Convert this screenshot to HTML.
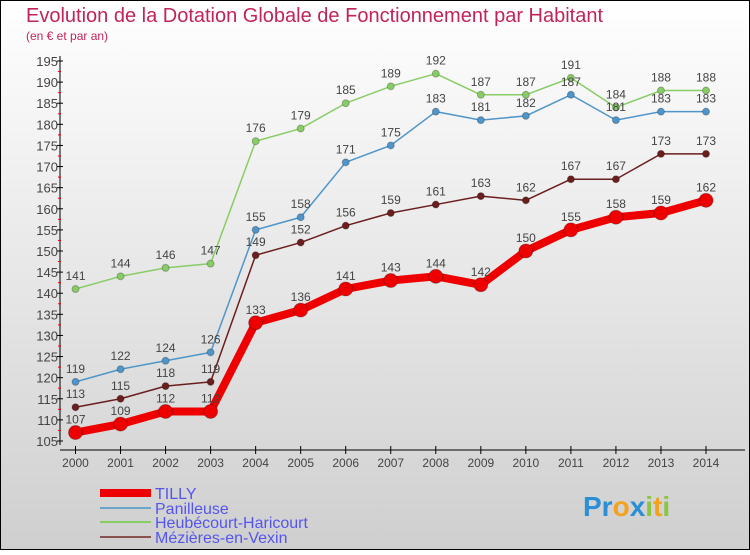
<!DOCTYPE html>
<html><head><meta charset="utf-8"><style>
html,body{margin:0;padding:0}
body{width:750px;height:550px;overflow:hidden;font-family:"Liberation Sans",sans-serif}
</style></head><body>
<svg width="750" height="550" xmlns="http://www.w3.org/2000/svg" id="svg">
<defs><linearGradient id="bg" x1="0" y1="0" x2="0" y2="1"><stop offset="0" stop-color="#ffffff"/><stop offset="1" stop-color="#cfcfcf"/></linearGradient></defs>
<rect x="0.5" y="0.5" width="749" height="549" fill="url(#bg)" stroke="#000"/>
<text x="26" y="22" font-size="20" fill="#c0245a">Evolution de la Dotation Globale de Fonctionnement par Habitant</text>
<text x="26" y="40" font-size="12" fill="#c0245a">(en € et par an)</text>
<g id="axes"></g><g id="series"></g>
<g font-size="16" fill="#5555ee">
<line x1="100" y1="493" x2="151" y2="493" stroke="#ee0000" stroke-width="8"/><text x="155" y="499">TILLY</text>
<line x1="100" y1="508" x2="151" y2="508" stroke="#6aa6cc" stroke-width="2"/><text x="155" y="514">Panilleuse</text>
<line x1="100" y1="522" x2="151" y2="522" stroke="#88cc66" stroke-width="2"/><text x="155" y="528">Heubécourt-Haricourt</text>
<line x1="100" y1="537" x2="151" y2="537" stroke="#8a5050" stroke-width="2"/><text x="155" y="543">Mézières-en-Vexin</text>
</g>
<g font-size="28" font-weight="bold">
<text x="583" y="516"><tspan fill="#2a8fd6">Pr</tspan><tspan fill="#f2a21c">o</tspan><tspan fill="#2a8fd6">x</tspan><tspan fill="#8cc63f">i</tspan><tspan fill="#f2a21c">t</tspan><tspan fill="#8cc63f">i</tspan></text>
</g>
</svg>
<script>
const years=[2000,2001,2002,2003,2004,2005,2006,2007,2008,2009,2010,2011,2012,2013,2014];
const tilly=[107,109,112,112,133,136,141,143,144,142,150,155,158,159,162];
const panilleuse=[119,122,124,126,155,158,171,175,183,181,182,187,181,183,183];
const heubecourt=[141,144,146,147,176,179,185,189,192,187,187,191,184,188,188];
const mezieres=[113,115,118,119,149,152,156,159,161,163,162,167,167,173,173];
const yTicks=[105,110,115,120,125,130,135,140,145,150,155,160,165,170,175,180,185,190,195];
const NS="http://www.w3.org/2000/svg";
function X(i){return 75.5+i*(706-75.5)/(years.length-1);}
function Y(v){return 441-(v-105)*(380/90);}
function mk(t,a,p){const e=document.createElementNS(NS,t);for(const k in a)e.setAttribute(k,a[k]);p.appendChild(e);return e;}
const ax=document.getElementById('axes');
let l=mk('line',{x1:60,y1:56,x2:60,y2:445,stroke:'#000'},ax);


l=mk('line',{x1:60,y1:450,x2:745,y2:450,stroke:'#000'},ax);


yTicks.forEach(v=>{mk('line',{x1:57,y1:Y(v),x2:63,y2:Y(v),stroke:'#000'},ax);
 if(v<195)mk('line',{x1:58,y1:Y(v+2.5),x2:61,y2:Y(v+2.5),stroke:'#e00'},ax);
 const t=mk('text',{x:58,y:Y(v)+5,'text-anchor':'end','font-size':13,fill:'#444'},ax);t.textContent=v;
 
 });
years.forEach((y,i)=>{mk('line',{x1:X(i),y1:446,x2:X(i),y2:454,stroke:'#000'},ax);
 const t=mk('text',{x:X(i),y:467,'text-anchor':'middle','font-size':12,fill:'#444'},ax);t.textContent=y;
 
 });
const sg=document.getElementById('series');
function draw(data,name,color,w,r){
 const g=mk('g',{},sg);
 
 
 mk('polyline',{points:data.map((v,i)=>X(i)+','+Y(v)).join(' '),fill:'none',stroke:color,'stroke-width':w,'stroke-linejoin':'round'},g);
 data.forEach((v,i)=>{const c=mk('circle',{cx:X(i),cy:Y(v),r:r,fill:color,stroke:'rgba(0,0,0,0.25)'},g);
  
  
  const t=mk('text',{x:X(i),y:Y(v)-9,'text-anchor':'middle','font-size':12,fill:'#444'},g);t.textContent=v;
  
  });
}
draw(heubecourt,'heubecourt','#88cc66',1.5,3.5);
draw(panilleuse,'panilleuse','#4f95c9',1.5,3.5);
draw(mezieres,'mezieres','#6b1e1e',1.5,3.5);
draw(tilly,'tilly','#ee0000',8,7);
</script>
</body></html>
